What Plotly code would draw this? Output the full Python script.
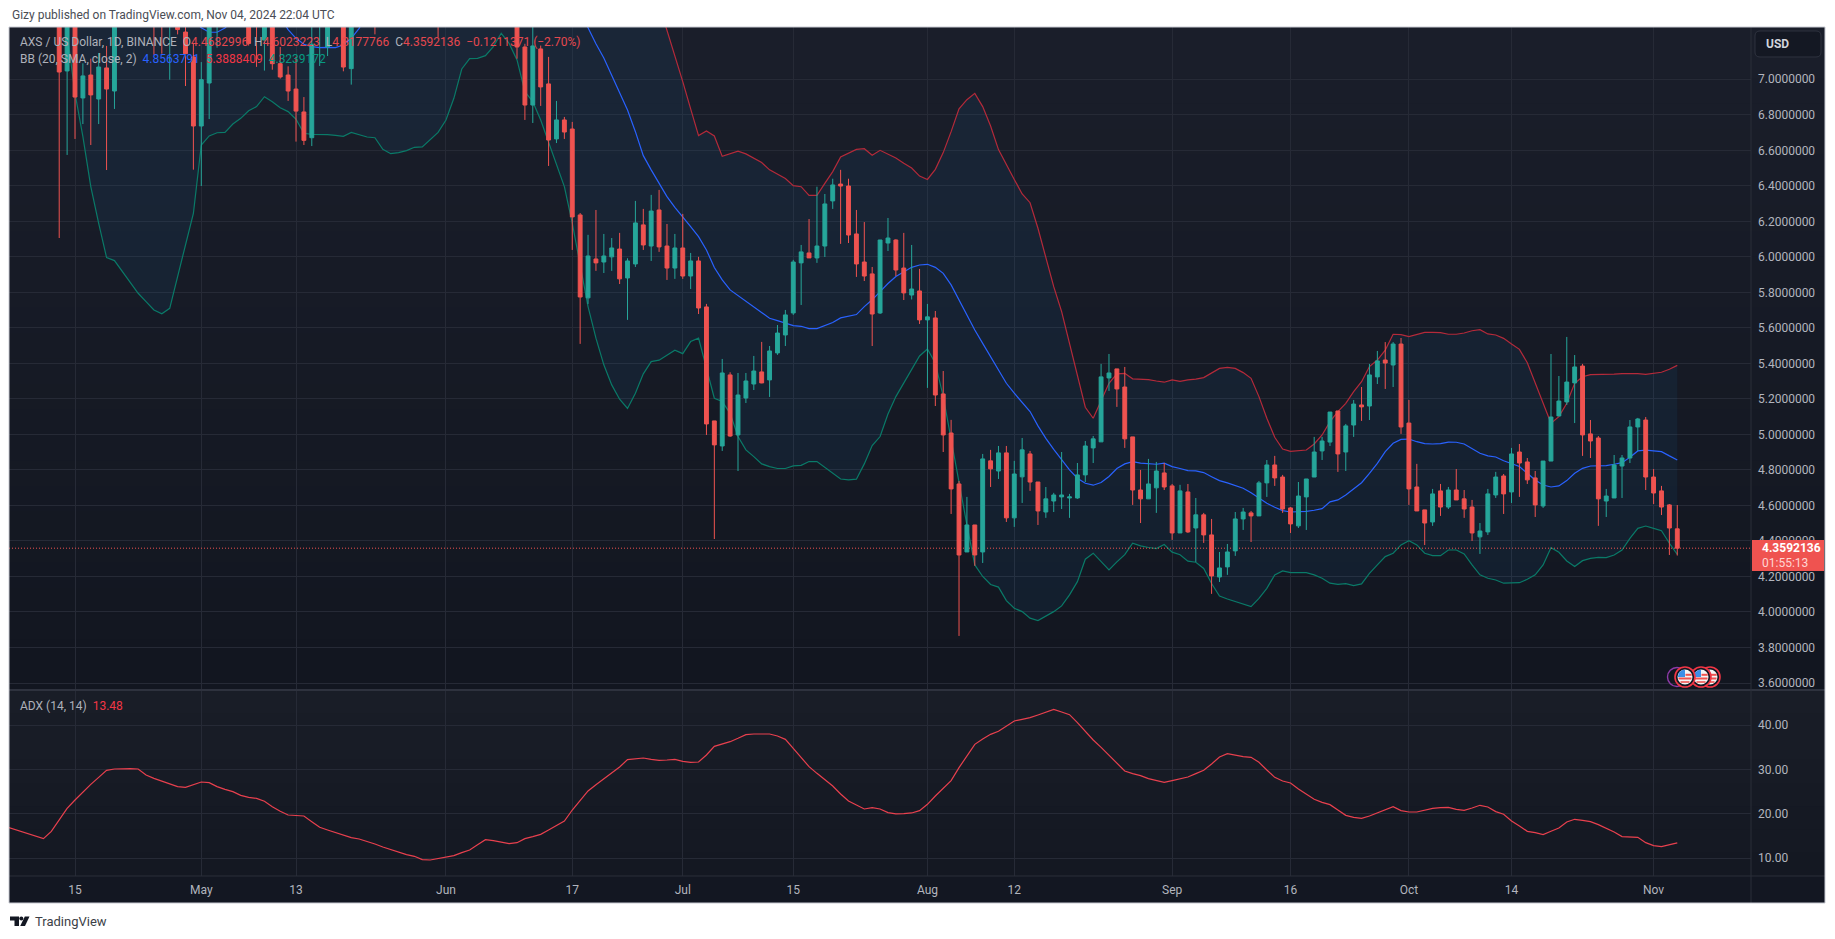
import datetime as dt
import plotly.graph_objects as go

W, H = 1835, 939
START = dt.datetime(2024, 4, 15)

# ---------- candles, one entry per day from 13 Apr 2024 (None = entirely above the visible range) ----------
N4, N3, N7, N9 = [None]*4, [None]*3, [None]*7, [None]*9
candle_open = [7.6,7.047,7.5,6.895,7.024,6.889,7.064,6.934]+N4+[7.6,7.6,7.35,7.4,7.266,7.126,6.737,6.979,7.4]+N3+[
 7.5,7.45,7.221,7.4,7.088,7.024,6.945,6.816,6.671,7.4,7.182,None,7.45,7.06,None,None,7.5]+N7+[7.5]+N9+[
 7.45,7.182,6.855,7.171,6.974,6.664,6.771,6.72,6.236,5.769,5.988,
 5.971,6.0,6.044,5.881,5.96,6.18,6.061,6.264,6.061,5.937,6.05,5.892,5.977,5.718,5.076,4.935,5.335,4.997,5.205,5.284,
 5.352,5.307,5.459,5.56,5.684,5.966,6.022,5.994,6.061,6.315,6.41,6.399,6.129,5.971,5.904,5.684,6.078,6.095,5.937,5.785,
 5.808,5.645,5.656,5.228,5.008,4.721,4.338,4.49,4.338,4.851,4.794,4.896,4.53,4.761,4.89,4.732,4.563,4.625,4.648,4.642,
 4.642,4.772,4.924,4.958,5.318,5.369,5.267,4.986,4.687,4.637,4.699,4.783,4.71,4.445,4.676,4.473,4.547,4.434,
 4.197,4.254,4.344,4.524,4.558,4.541,4.727,4.828,4.76,4.586,4.485,4.648,4.76,4.907,4.957,5.132,4.901,5.053,5.166,5.16,
 5.324,5.419,5.391,5.509,5.064,4.704,4.575,4.507,4.682,4.591,4.687,4.637,4.591,4.423,4.451,4.659,4.766,4.676,4.901,4.845,
 4.755,4.597,4.85,5.104,5.183,5.29,5.385,5.003,4.98,4.625,4.642,4.822,4.867,5.042,5.081,4.76,4.682,4.603,4.4682996]
candle_high = [7.8,7.7,7.6,7.09,7.116,7.148,7.188,7.7]+N4+[7.7,7.7,7.6,7.6,7.35,7.2,7.097,7.6,7.6]+N3+[
 7.6,7.6,7.5,7.5,7.182,7.073,7.127,6.9,7.33,7.6,7.5,None,7.6,7.6,None,None,7.6]+N7+[7.6]+N9+[
 7.6,7.2,7.33,7.19,7.126,6.878,6.788,6.76,6.247,6.124,6.264,
 6.129,6.106,6.135,5.992,6.315,6.27,6.349,6.377,6.185,6.129,6.242,6.022,6.0,5.735,5.076,5.425,5.35,5.346,5.346,5.442,
 5.521,5.498,5.616,5.701,5.983,6.067,6.213,6.395,6.354,6.44,6.49,6.44,6.264,6.196,5.943,6.095,6.219,6.099,6.135,6.067,
 5.932,5.735,5.695,5.357,5.082,4.738,4.648,4.49,4.89,4.913,4.935,4.935,4.851,4.98,4.907,4.732,4.704,4.671,4.901,4.665,
 4.839,4.963,4.991,5.397,5.453,5.369,5.38,4.986,4.8,4.862,4.845,4.839,4.721,4.716,4.721,4.642,4.558,4.524,
 4.338,4.383,4.563,4.586,4.569,4.738,4.856,4.879,4.772,4.591,4.732,4.749,4.986,4.986,5.126,5.132,5.059,5.194,5.267,5.397,
 5.47,5.52,5.52,5.543,5.194,4.834,4.575,4.693,4.721,4.704,4.805,4.687,4.631,4.501,4.693,4.789,4.777,4.924,4.946,4.867,
 4.794,4.85,5.453,5.329,5.549,5.447,5.397,5.081,4.991,4.693,4.884,4.884,5.081,5.093,5.098,4.805,4.71,4.608,4.6023223]
candle_low = [6.106,6.574,6.664,6.748,6.63,6.748,6.489,6.833]+N4+[7.139,7.144,6.998,7.253,6.962,6.491,6.399,6.776,7.178]+N3+[
 7.19,7.07,7.049,7.054,7.004,6.878,6.649,6.63,6.624,7.075,7.131,None,7.045,6.97,None,None,7.253]+N7+[7.238]+N9+[
 7.116,6.771,6.754,6.85,6.512,6.641,6.664,6.039,5.51,5.735,5.921,
 5.909,5.921,5.847,5.645,5.943,6.039,5.977,6.028,5.87,5.876,5.876,5.819,5.678,4.997,4.411,4.907,4.986,4.794,5.177,5.25,
 5.288,5.211,5.448,5.498,5.673,5.729,5.994,5.966,5.999,6.27,6.073,6.078,5.887,5.864,5.498,5.678,6.033,5.892,5.757,5.76,
 5.622,5.262,5.16,4.901,4.552,3.865,4.338,4.26,4.276,4.704,4.749,4.507,4.479,4.614,4.682,4.49,4.53,4.563,4.58,4.53,
 4.637,4.732,4.839,4.958,5.245,5.155,4.924,4.603,4.501,4.637,4.558,4.687,4.406,4.445,4.445,4.282,4.389,4.102,
 4.169,4.209,4.316,4.462,4.394,4.541,4.648,4.71,4.558,4.445,4.473,4.462,4.76,4.856,4.935,4.789,4.794,4.986,5.076,5.081,
 5.284,5.256,5.267,5.003,4.603,4.569,4.377,4.485,4.541,4.58,4.631,4.53,4.4,4.327,4.434,4.642,4.552,4.614,4.648,4.721,
 4.535,4.586,4.85,5.104,5.166,5.064,4.879,4.867,4.485,4.535,4.642,4.642,4.839,4.907,4.687,4.608,4.546,4.321,4.3177766]
candle_close = [7.041,7.5,6.9,7.019,6.912,7.069,6.945,7.6]+N4+[7.4,7.4,7.5,7.28,7.144,6.737,6.998,7.45,7.5]+N3+[
 7.202,7.35,7.45,7.088,7.013,6.934,6.821,6.656,7.197,7.5,7.4,None,7.069,7.45,None,None,7.4]+N7+[7.4]+N9+[
 7.182,6.855,7.188,6.957,6.658,6.771,6.703,6.225,5.774,6.005,5.966,
 6.005,6.05,5.876,5.977,6.191,6.067,6.258,6.056,5.937,6.05,5.892,5.977,5.712,5.059,4.941,5.346,4.991,5.222,5.301,5.357,
 5.29,5.47,5.571,5.673,5.971,6.028,5.994,6.061,6.298,6.405,6.399,6.123,5.96,5.892,5.678,6.095,6.106,5.926,5.797,5.819,
 5.645,5.662,5.222,4.997,4.693,4.321,4.49,4.321,4.862,4.806,4.896,4.53,4.777,4.913,4.732,4.569,4.637,4.659,4.659,4.648,
 4.772,4.935,4.975,5.324,5.346,5.256,4.975,4.687,4.637,4.721,4.794,4.704,4.445,4.682,4.451,4.547,4.434,4.203,
 4.248,4.338,4.524,4.563,4.541,4.727,4.828,4.755,4.58,4.496,4.653,4.749,4.901,4.963,5.126,4.89,5.048,5.171,5.155,5.335,
 5.414,5.402,5.509,5.042,4.693,4.569,4.501,4.665,4.591,4.687,4.631,4.58,4.445,4.456,4.665,4.76,4.665,4.89,4.839,4.744,
 4.603,4.85,5.098,5.188,5.295,5.38,4.997,4.963,4.637,4.653,4.828,4.867,5.042,5.087,4.76,4.67,4.591,4.473,4.3592136]

# ---------- Bollinger bands: day offset from 15 Apr 2024, value ----------
lower_days = list(range(-2, 204))
lower_band = [7.6,7.25,6.921,6.677,6.396,6.189,5.996,5.979,5.917,5.851,5.795,5.748,5.701,5.679,5.71,5.889,6.067,6.245,
 6.63,6.681,6.699,6.701,6.748,6.78,6.823,6.846,6.902,6.874,6.84,6.818,6.775,6.696,6.69,6.69,6.688,6.684,6.679,6.701,6.688,
 6.675,6.671,6.606,6.581,6.587,6.598,6.617,6.619,6.658,6.701,6.771,6.893,7.058,7.116,7.118,7.133,7.184,7.259,7.202,7.109,
 6.93,6.874,6.771,6.649,6.527,6.396,6.19,5.955,5.72,5.542,5.392,5.279,5.198,5.146,5.232,5.341,5.41,5.418,5.448,5.474,5.455,
 5.523,5.542,5.38,5.204,5.185,5.119,4.988,4.913,4.875,4.834,4.819,4.808,4.808,4.823,4.826,4.847,4.847,4.815,4.781,4.749,
 4.744,4.748,4.834,4.937,4.988,5.115,5.213,5.288,5.363,5.442,5.481,5.401,5.213,4.969,4.744,4.49,4.265,4.2,4.155,4.14,4.064,
 4.021,4.002,3.965,3.952,3.978,4.002,4.034,4.096,4.171,4.297,4.331,4.282,4.237,4.282,4.323,4.387,4.372,4.363,4.357,4.38,
 4.337,4.322,4.286,4.28,4.245,4.16,4.09,4.073,4.06,4.045,4.03,4.077,4.133,4.209,4.231,4.222,4.222,4.222,4.209,4.19,4.162,
 4.156,4.16,4.148,4.158,4.218,4.265,4.312,4.331,4.378,4.402,4.378,4.331,4.317,4.317,4.349,4.349,4.327,4.265,4.209,4.19,
 4.18,4.162,4.162,4.165,4.184,4.209,4.265,4.362,4.336,4.287,4.256,4.289,4.302,4.308,4.306,4.321,4.349,4.415,4.471,4.484,
 4.471,4.458,4.387,4.3239172]

upper_days = [-2, 30, 60, 70, 72, 73, 74, 75, 76, 77, 78, 79, 80, 81, 82, 83, 84, 85, 86, 87, 88, 89, 90, 91, 92, 93, 94, 95,
 96, 97, 98, 99, 100, 101, 102, 103, 104, 105, 106, 107, 108, 109, 110, 111, 112, 113, 114, 115, 116, 117, 118, 119, 120,
 121, 122, 123, 124, 125, 126, 127, 128, 129, 130, 131, 132, 133, 134, 135, 136, 137, 138, 139, 140, 141, 142, 143, 144,
 145, 146, 147, 148, 149, 150, 151, 152, 153, 154, 155, 156, 157, 158, 159, 160, 161, 162, 163, 164, 165, 166, 167, 168,
 169, 170, 171, 172, 173, 174, 175, 176, 177, 178, 179, 180, 181, 182, 183, 184, 185, 186, 187, 188, 189, 190, 191, 192,
 193, 194, 195, 196, 197, 198, 199, 200, 201, 202, 203]
upper_band = [10.5, 9.0, 8.5, 8.0, 7.7, 7.57, 7.42, 7.28, 7.13, 6.987, 6.833, 6.683, 6.709, 6.681, 6.566, 6.58, 6.595, 6.58,
 6.557, 6.531, 6.49, 6.467, 6.441, 6.401, 6.395, 6.346, 6.346, 6.414, 6.48, 6.562, 6.585, 6.605, 6.609, 6.572, 6.6, 6.579,
 6.557, 6.527, 6.5, 6.455, 6.436, 6.493, 6.587, 6.705, 6.834, 6.885, 6.921, 6.846, 6.737, 6.604, 6.517, 6.436, 6.354, 6.305,
 6.161, 5.992, 5.832, 5.692, 5.513, 5.344, 5.153, 5.091, 5.194, 5.288, 5.341, 5.344, 5.313, 5.311, 5.309, 5.301, 5.294,
 5.307, 5.299, 5.307, 5.311, 5.32, 5.348, 5.372, 5.378, 5.372, 5.348, 5.316, 5.213, 5.091, 4.984, 4.918, 4.905, 4.907,
 4.912, 4.946, 4.997, 5.072, 5.128, 5.175, 5.241, 5.297, 5.382, 5.419, 5.475, 5.564, 5.562, 5.551, 5.564, 5.575, 5.575,
 5.573, 5.564, 5.564, 5.571, 5.584, 5.59, 5.566, 5.56, 5.541, 5.509, 5.479, 5.404, 5.292, 5.175, 5.063, 5.1, 5.175, 5.288,
 5.325, 5.337, 5.337, 5.338, 5.34, 5.342, 5.344, 5.342, 5.338, 5.344, 5.35, 5.367, 5.3888409]

mid_days = [-2, 10, 14, 15, 16, 17, 18, 19, 20, 21, 22, 24, 26, 27, 28, 29, 30, 31, 32, 33, 34, 35, 36, 37, 38, 45, 60, 63, 64,
 65, 66, 67, 68] + list(range(69, 204))
mid_band = [8.6, 8.0, 7.45, 7.33, 7.29, 7.265, 7.265, 7.289, 7.33, 7.4, 7.5, 7.48, 7.35, 7.28, 7.231, 7.197, 7.184, 7.178,
 7.18, 7.178, 7.193, 7.231, 7.287, 7.37, 7.45, 7.9, 7.9, 7.5, 7.38, 7.29, 7.2, 7.12, 7.02,
 6.921, 6.827, 6.705, 6.57, 6.49, 6.414, 6.339, 6.279, 6.227, 6.17, 6.114, 6.039, 5.94, 5.87, 5.814, 5.782, 5.748, 5.718,
 5.682, 5.654, 5.641, 5.626, 5.613, 5.609, 5.596, 5.596, 5.613, 5.63, 5.656, 5.664, 5.675, 5.72, 5.758, 5.804, 5.85, 5.889,
 5.917, 5.941, 5.954, 5.958, 5.941, 5.907, 5.842, 5.757, 5.673, 5.588, 5.513, 5.438, 5.363, 5.288, 5.232, 5.179, 5.129,
 5.048, 4.978, 4.916, 4.856, 4.8, 4.753, 4.725, 4.714, 4.729, 4.763, 4.808, 4.834, 4.847, 4.838, 4.834, 4.832, 4.838, 4.819,
 4.808, 4.796, 4.795, 4.785, 4.762, 4.74, 4.727, 4.713, 4.697, 4.672, 4.64, 4.612, 4.59, 4.571, 4.563, 4.563, 4.567, 4.573,
 4.582, 4.62, 4.631, 4.659, 4.693, 4.728, 4.781, 4.837, 4.903, 4.95, 4.972, 4.974, 4.959, 4.948, 4.946, 4.948, 4.957, 4.956,
 4.946, 4.918, 4.894, 4.879, 4.873, 4.852, 4.834, 4.819, 4.781, 4.743, 4.715, 4.704, 4.71, 4.74, 4.781, 4.809, 4.822, 4.824,
 4.824, 4.832, 4.841, 4.871, 4.907, 4.911, 4.907, 4.903, 4.879, 4.8563791]

# ---------- ADX ----------
adx_days = list(range(-9, 204))
adx_values = [17.3,16.76,16.2,15.6,15.0,14.43,16.08,18.64,21.27,23.15,25.03,26.68,28.26,29.84,30.14,30.22,30.22,30.14,28.79,
 28.03,27.36,26.83,26.16,26.0,26.53,27.2,27.06,26.16,25.55,25.03,24.2,23.75,23.52,22.85,21.64,20.59,19.76,19.61,19.54,18.26,
 16.98,16.38,15.78,15.1,14.65,14.35,13.82,13.22,12.55,11.95,11.49,10.82,10.44,9.69,9.61,9.99,10.21,10.59,11.27,11.87,13.07,
 14.2,13.97,13.6,13.3,13.52,14.43,14.88,15.4,16.38,17.43,18.41,20.89,23.15,25.18,26.6,27.88,29.16,30.59,32.25,32.47,32.62,
 32.32,32.1,32.17,32.32,31.87,31.64,31.72,33.3,35.25,35.78,36.3,37.06,37.88,38.03,38.03,38.03,37.58,36.83,34.8,32.77,30.67,
 29.16,27.66,26.31,24.5,22.92,22.02,21.12,21.42,21.12,20.29,20.0,20.07,20.22,20.74,22.17,24.05,25.78,27.51,30.44,33.07,35.7,
 36.91,37.96,38.64,39.84,40.97,41.34,41.72,42.32,43.0,43.6,43.0,42.4,40.59,38.56,36.68,35.03,33.3,31.42,29.69,29.09,28.64,
 27.96,27.51,27.13,27.51,27.88,28.34,29.09,29.84,31.27,32.85,33.6,33.22,32.92,32.77,31.64,29.91,28.26,27.43,26.98,25.63,
 24.43,23.3,22.62,22.1,20.89,19.69,19.24,19.01,19.54,20.22,21.04,21.64,20.74,20.44,20.44,20.89,21.27,21.42,21.49,21.04,20.82,
 21.34,21.95,21.57,20.52,19.92,18.41,17.28,16.08,15.78,15.33,16.08,16.83,18.19,18.79,18.56,18.26,17.58,16.83,15.93,14.88,
 14.8,14.73,13.52,12.85,12.62,13.07,13.48]

# ---------- axis labels ----------
price_ticks = [3.6,3.8,4.0,4.2,4.4,4.6,4.8,5.0,5.2,5.4,5.6,5.8,6.0,6.2,6.4,6.6,6.8,7.0]
adx_ticks = [10, 20, 30, 40]
date_tick_values = ["2024-04-15","2024-05-01","2024-05-13","2024-06-01","2024-06-17","2024-07-01","2024-07-15",
                    "2024-08-01","2024-08-12","2024-09-01","2024-09-16","2024-10-01","2024-10-14","2024-11-01"]
date_tick_labels = ["15","May","13","Jun","17","Jul","15","Aug","12","Sep","16","Oct","14","Nov"]
last_close = 4.3592136


def day(d):
    return START + dt.timedelta(days=d)

candle_days = list(range(-2, 204))
assert all(len(a) == len(candle_days) for a in (candle_open, candle_high, candle_low, candle_close))
assert len(lower_band) == len(lower_days)
assert len(upper_band) == len(upper_days)
assert len(mid_band) == len(mid_days)
assert len(adx_values) == len(adx_days)

PLOT_L, PLOT_R, OUTER_R = 9, 1751, 1825
TOP, PANE_SPLIT, ADX_BOTTOM, BOTTOM = 27, 690, 876, 903
px_per_day = 7.893
x_range = [day((PLOT_L - 75) / px_per_day), day((PLOT_R - 75) / px_per_day)]
main_range = [3.5606, 7.2945]
adx_range = [6.0, 47.96]

px = lambda x: x / W
py = lambda y: 1 - y / H

GRID = "#262a36"
TEXT = "#b2b5be"
RED = "#f23645"
FONT = "Roboto, Arial, sans-serif"

fig = go.Figure()

fig.add_trace(go.Scatter(x=[day(d) for d in lower_days], y=lower_band, mode="lines",
                         line=dict(color="#0a7a68", width=1.2), yaxis="y", xaxis="x", hoverinfo="skip"))
fig.add_trace(go.Scatter(x=[day(d) for d in upper_days], y=upper_band, mode="lines", fill="tonexty",
                         fillcolor="rgba(33,150,243,0.065)", line=dict(color="#b42a3a", width=1.2),
                         yaxis="y", xaxis="x", hoverinfo="skip"))
fig.add_trace(go.Scatter(x=[day(d) for d in mid_days], y=mid_band, mode="lines",
                         line=dict(color="#2962ff", width=1.2), yaxis="y", xaxis="x", hoverinfo="skip"))
fig.add_trace(go.Scatter(x=x_range, y=[last_close, last_close], mode="lines",
                         line=dict(color="#ef5350", width=1, dash="1px,2px"), yaxis="y", xaxis="x", hoverinfo="skip"))
fig.add_trace(go.Candlestick(x=[day(d) for d in candle_days], open=candle_open, high=candle_high, low=candle_low,
                             close=candle_close, yaxis="y3", xaxis="x", whiskerwidth=0,
                             increasing=dict(line=dict(color="#26a69a", width=1), fillcolor="#26a69a"),
                             decreasing=dict(line=dict(color="#ef5350", width=1), fillcolor="#ef5350")))
fig.add_trace(go.Scatter(x=[day(d) for d in adx_days], y=adx_values, mode="lines",
                         line=dict(color="#e8404e", width=1.2), yaxis="y2", xaxis="x", hoverinfo="skip"))

shapes = []


def gradient(y0, y1, c0, c1, n):
    # each band runs down to the pane's bottom, so later bands overpaint and leave no seams
    for i in range(n):
        t = i / max(n - 1, 1)
        col = tuple(round(a + (b - a) * t) for a, b in zip(c0, c1))
        shapes.append(dict(type="rect", xref="paper", yref="paper", layer="below", line=dict(width=0),
                           x0=px(PLOT_L), x1=px(OUTER_R),
                           y0=py(y1), y1=py(y0 + (y1 - y0) * i / n),
                           fillcolor="rgb(%d,%d,%d)" % col))


gradient(TOP, PANE_SPLIT, (26, 30, 42), (18, 22, 32), 26)
gradient(PANE_SPLIT, ADX_BOTTOM, (25, 29, 39), (20, 24, 34), 8)
gradient(ADX_BOTTOM, BOTTOM, (19, 23, 34), (19, 23, 34), 1)


def seg(x0, y0, x1, y1, color="#2a2e39", width=1):
    shapes.append(dict(type="line", xref="paper", yref="paper", layer="above", x0=px(x0), x1=px(x1),
                       y0=py(y0), y1=py(y1), line=dict(color=color, width=width)))


seg(PLOT_L, PANE_SPLIT, OUTER_R, PANE_SPLIT, "#2e323e", 2)
seg(PLOT_L, ADX_BOTTOM, OUTER_R, ADX_BOTTOM)
seg(PLOT_R, TOP, PLOT_R, BOTTOM)
shapes.append(dict(type="rect", xref="paper", yref="paper", layer="above", x0=px(PLOT_L), x1=px(OUTER_R),
                   y0=py(BOTTOM), y1=py(TOP), line=dict(color="#c8cad2", width=1), fillcolor="rgba(0,0,0,0)"))


def poly(points, fill):
    d = "M" + " L".join("%.5f,%.5f" % (px(x), py(y)) for x, y in points) + " Z"
    shapes.append(dict(type="path", path=d, xref="paper", yref="paper", layer="above",
                       fillcolor=fill, line=dict(width=0)))


def round_rect(x0, y0, x1, y1, r, fill, line):
    d = ("M%.5f,%.5f L%.5f,%.5f Q%.5f,%.5f %.5f,%.5f L%.5f,%.5f Q%.5f,%.5f %.5f,%.5f "
         "L%.5f,%.5f Q%.5f,%.5f %.5f,%.5f L%.5f,%.5f Q%.5f,%.5f %.5f,%.5f Z") % (
        px(x0 + r), py(y0), px(x1 - r), py(y0), px(x1), py(y0), px(x1), py(y0 + r),
        px(x1), py(y1 - r), px(x1), py(y1), px(x1 - r), py(y1),
        px(x0 + r), py(y1), px(x0), py(y1), px(x0), py(y1 - r),
        px(x0), py(y0 + r), px(x0), py(y0), px(x0 + r), py(y0))
    shapes.append(dict(type="path", path=d, xref="paper", yref="paper", layer="above",
                       fillcolor=fill, line=dict(color=line, width=1)))


def circle(cx, cy, r, fill, line=None, lw=0):
    shapes.append(dict(type="circle", xref="paper", yref="paper", layer="above",
                       x0=px(cx - r), x1=px(cx + r), y0=py(cy + r), y1=py(cy - r), fillcolor=fill,
                       line=dict(color=line, width=lw) if line else dict(width=0)))


def rect(x0, y0, x1, y1, fill):
    shapes.append(dict(type="rect", xref="paper", yref="paper", layer="above", x0=px(x0), x1=px(x1),
                       y0=py(y1), y1=py(y0), fillcolor=fill, line=dict(width=0)))


# USD button
round_rect(1755, 31, 1821, 57, 5, "#141823", "#2f333f")
# last price label
rect(PLOT_R + 1, 540, 1824, 571, "#ef5350")


def flag(cx, cy):
    circle(cx, cy, 10, "#131722", "#f23645", 1.6)
    circle(cx, cy, 7.5, "#f5f5f5")
    rect(cx - 6.5, cy + 0.5, cx + 6.5, cy + 2.5, "#ef5350")
    rect(cx - 4.5, cy + 4.2, cx + 4.5, cy + 5.8, "#ef5350")
    rect(cx + 0.5, cy - 3.2, cx + 6.7, cy - 1.2, "#ef5350")
    poly([(cx - 6, cy - 4.5), (cx - 2.5, cy - 7), (cx, cy - 7), (cx, cy), (cx - 7.2, cy)], "#3d8fe8")


circle(1677, 677, 9.5, "rgba(0,0,0,0)", "#8e3aa8", 1.4)
flag(1710, 677)
flag(1701, 677)
flag(1685, 677)

# TradingView logo
LOGO_Y0, LOGO_Y1 = 916.5, 926
poly([(10, LOGO_Y0), (19, LOGO_Y0), (19, LOGO_Y1), (14.5, LOGO_Y1), (14.5, LOGO_Y0 + 4), (10, LOGO_Y0 + 4)], "#131722")
circle(21.3, LOGO_Y0 + 2, 2, "#131722")
poly([(24.8, LOGO_Y0), (29.5, LOGO_Y0), (25, LOGO_Y1), (20.2, LOGO_Y1)], "#131722")

annotations = []


def text(x, y, s, size=12, color=TEXT, anchor="left", family=FONT):
    annotations.append(dict(xref="paper", yref="paper", x=px(x), y=py(y), text=s, showarrow=False,
                            xanchor=anchor, yanchor="middle", align="left",
                            font=dict(size=size, color=color, family=family)))


def span(s, c):
    return '<span style="color:%s">%s</span>' % (c, s)


gap = "\u00a0\u00a0"
val = "#e5484f"
text(10, 15, "Gizy published on TradingView.com, Nov 04, 2024 22:04 UTC", 12, "#4a4d55")
text(18, 42, "AXS / US Dollar, 1D, BINANCE" + gap + "O" + span("4.4682996", val) + gap + "H" + span("4.6023223", val)
     + gap + "L" + span("4.3177766", val) + gap + "C" + span("4.3592136", val) + gap
     + span("\u22120.1211371 (\u22122.70%)", val), 12, "#aeb1ba")
text(18, 59, "BB (20, SMA, close, 2)" + gap + span("4.8563791", "#2962ff") + gap + span("5.3888409", RED) + gap
     + span("4.3239172", "#089981"), 12, "#aeb1ba")
text(18, 706, "ADX (14, 14)" + gap + span("13.48", RED), 12, "#aeb1ba")
text(1764, 44, "<b>USD</b>", 12, "#d1d4dc")
text(1760, 548, "<b>4.3592136</b>", 12, "#ffffff")
text(1760, 563, "01:55:13", 12, "#ffd6d4")
text(33, 921, "TradingView", 13, "#3c3f47")

axis_common = dict(showline=False, zeroline=False, ticks="", color=TEXT, tickfont=dict(size=12, color=TEXT, family=FONT),
                   gridcolor=GRID, gridwidth=1)

fig.update_layout(
    width=W, height=H, autosize=False,
    margin=dict(l=0, r=0, t=0, b=0), paper_bgcolor="#ffffff", plot_bgcolor="rgba(0,0,0,0)",
    showlegend=False, hovermode=False, dragmode=False,
    shapes=shapes, annotations=annotations, font=dict(family=FONT),
    xaxis=dict(domain=[px(PLOT_L), px(PLOT_R)], range=x_range, type="date", anchor="y2", rangeslider=dict(visible=False),
               tickmode="array", tickvals=date_tick_values, ticktext=date_tick_labels, showgrid=True,
               ticklabelstandoff=5, **axis_common),
    yaxis=dict(domain=[py(PANE_SPLIT), py(TOP)], range=main_range, side="right", anchor="x", tickmode="array",
               tickvals=price_ticks, ticktext=["%.7f" % v for v in price_ticks], showgrid=True,
               ticklabelstandoff=6, **axis_common),
    yaxis2=dict(domain=[py(ADX_BOTTOM), py(PANE_SPLIT)], range=adx_range, side="right", anchor="x", tickmode="array",
                tickvals=adx_ticks, ticktext=["%.2f" % v for v in adx_ticks], showgrid=True,
                ticklabelstandoff=6, **axis_common),
    yaxis3=dict(overlaying="y", range=main_range, side="right", anchor="x", visible=False, showgrid=False),
)

fig.write_html("out.html", config=dict(displayModeBar=False),
               post_script="document.body.style.margin='0';document.documentElement.style.overflow='hidden';")
